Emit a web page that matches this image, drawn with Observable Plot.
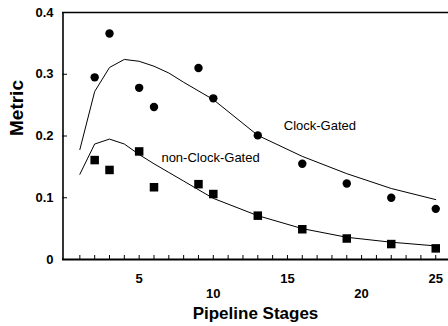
<!DOCTYPE html>
<html>
<head>
<meta charset="utf-8">
<script src="https://cdn.jsdelivr.net/npm/d3@7"></script>
<script src="https://cdn.jsdelivr.net/npm/@observablehq/plot@0.6"></script>
<style>
  html, body { margin: 0; padding: 0; background: #fff; }
  #chart svg { display: block; }
</style>
</head>
<body>
<div id="chart"></div>
<script>
// Measured metric per pipeline depth
const stages = [2, 3, 5, 6, 9, 10, 13, 16, 19, 22, 25];
const clockGated = [0.295, 0.366, 0.278, 0.247, 0.310, 0.261, 0.201, 0.155, 0.123, 0.100, 0.082];
const nonClockGated = [0.161, 0.145, 0.175, 0.117, 0.122, 0.106, 0.071, 0.049, 0.034, 0.025, 0.018];

// Model curves
const fitStages = [1, 2, 3, 4, 5, 6, 7, 8, 10, 13, 16, 19, 22, 25];
const clockGatedFit = [0.178, 0.272, 0.311, 0.324, 0.321, 0.313, 0.302, 0.287, 0.259, 0.201, 0.167, 0.139, 0.115, 0.097];
const nonClockGatedFit = [0.138, 0.187, 0.195, 0.187, 0.170, 0.155, 0.141, 0.127, 0.099, 0.071, 0.050, 0.036, 0.028, 0.022];

// Series labels and axis ticks
const seriesLabels = [
  {name: "Clock-Gated", stage: 14.75, value: 0.217},
  {name: "non-Clock-Gated", stage: 6.5, value: 0.165}
];
const xMinorTicks = d3.range(1, 26);
const xLabelsLow = [5, 15, 25];
const xLabelsHigh = [10, 20];
const yTicks = [0.1, 0.2, 0.3];
const yLabels = [0, 0.1, 0.2, 0.3, 0.4];

const measured = stages.map((s, i) => ({stage: s, cg: clockGated[i], ncg: nonClockGated[i]}));
const fitted = fitStages.map((s, i) => ({stage: s, cg: clockGatedFit[i], ncg: nonClockGatedFit[i]}));

const font = "'Liberation Sans', Arial, Helvetica, sans-serif";

const chart = Plot.plot({
  width: 448,
  height: 326,
  marginLeft: 62,
  marginRight: 0,
  marginTop: 12,
  marginBottom: 67,
  style: {fontFamily: font, background: "white", color: "black"},
  x: {domain: [-0.17, 25.86], axis: null, label: null},
  y: {domain: [0, 0.4], axis: null, label: null},
  marks: [
    // frame: top, bottom, left
    Plot.ruleY([0.4], {stroke: "black", strokeWidth: 1.6}),
    Plot.ruleY([0], {stroke: "black", strokeWidth: 2}),
    Plot.ruleX([-0.17], {stroke: "black", strokeWidth: 1.6, dx: 0.5}),

    // inward ticks
    Plot.axisX(xMinorTicks, {anchor: "bottom", tickSize: -4, tickFormat: () => "", stroke: "black", strokeWidth: 1, label: null}),
    Plot.axisY(yTicks, {anchor: "left", tickSize: -5, tickFormat: () => "", stroke: "black", strokeWidth: 1, label: null}),

    // tick labels (staggered on x)
    Plot.axisX(xLabelsLow, {anchor: "bottom", tickSize: 0, tickPadding: 14, fontSize: 13, fontWeight: "bold", fill: "black", label: null}),
    Plot.axisX(xLabelsHigh, {anchor: "bottom", tickSize: 0, tickPadding: 29, fontSize: 13, fontWeight: "bold", fill: "black", label: null}),
    Plot.axisY(yLabels, {anchor: "left", tickSize: 0, tickPadding: 9, tickFormat: d => String(d), fontSize: 13, fontWeight: "bold", fill: "black", label: null}),

    // axis titles
    Plot.text(["Metric"], {frameAnchor: "left", dx: -46, rotate: -90, fontSize: 19, fontWeight: "bold", fill: "black"}),
    Plot.text(["Pipeline Stages"], {frameAnchor: "bottom", dy: 59, fontSize: 17, fontWeight: "bold", fill: "black"}),

    // model curves
    Plot.line(fitted, {x: "stage", y: "cg", stroke: "black", strokeWidth: 1}),
    Plot.line(fitted, {x: "stage", y: "ncg", stroke: "black", strokeWidth: 1}),

    // measured points
    Plot.dot(measured, {x: "stage", y: "cg", r: 4.2, fill: "black", stroke: "none"}),
    Plot.dot(measured, {x: "stage", y: "ncg", symbol: "square", r: 4.8, fill: "black", stroke: "none"}),

    // series labels
    Plot.text(seriesLabels, {x: "stage", y: "value", text: "name", textAnchor: "start", fontSize: 13, fill: "black"})
  ]
});

document.getElementById("chart").appendChild(chart);
</script>
</body>
</html>
